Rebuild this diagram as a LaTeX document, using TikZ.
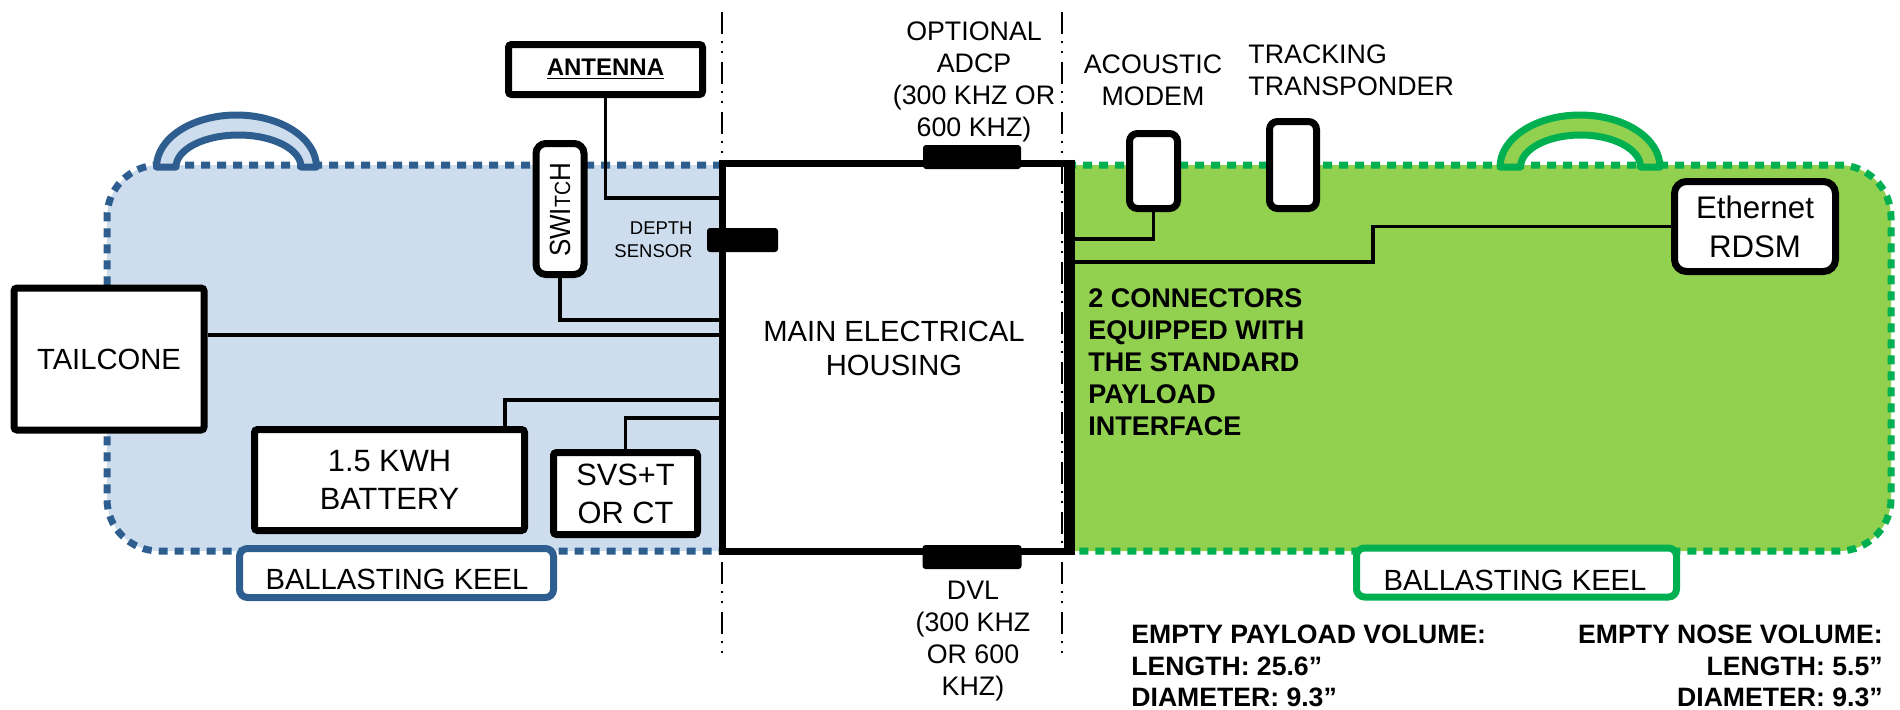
\documentclass[tikz,border=0pt]{standalone}
\usepackage{fontspec}
\setmainfont{Liberation Sans}
\definecolor{bluefill}{HTML}{CEDDEE}
\definecolor{blueline}{HTML}{2E5E8F}
\definecolor{greenfill}{HTML}{92D050}
\definecolor{greenline}{HTML}{00B050}
\tikzset{
  unitbox/.style={draw=black, fill=white, line width=3.5pt, rounded corners=1.5pt, inner sep=0, align=center, font=\fontsize{15.4}{19}\selectfont},
  podbox/.style={unitbox, rounded corners=6pt},
  barnode/.style={fill=black, rounded corners=1.5pt, inner sep=0},
  wire/.style={draw=black, line width=1.7pt, line join=miter},
  hull/.style={line width=3.5pt, dash pattern=on 4.5pt off 3.5pt, rounded corners=26pt},
  handle/.style={line width=3.5pt, line join=round},
  keel/.style={fill=white, line width=3.5pt, rounded corners=4pt, inner sep=0, font=\fontsize{14.6}{18}\selectfont},
  bound/.style={draw=black, line width=1.2pt, dash pattern=on 11pt off 3.5pt on 1pt off 4pt on 1pt off 4.5pt},
  note/.style={inner sep=0, align=center, font=\fontsize{13.4}{16}\selectfont},
  boldnote/.style={inner sep=0, font=\fontsize{13.3}{15.7}\selectfont\bfseries}
}
\begin{document}
\begin{tikzpicture}[x=.5pt, y=-.5pt]
\useasboundingbox (0,0) rectangle (1900,709);

\draw[hull, draw=greenline, fill=greenfill] (1067,165) -- (1891,165) -- (1891,551) -- (1067,551);
\draw[hull, draw=blueline, fill=bluefill] (722,165) -- (107,165) -- (107,551) -- (722,551);

\draw[handle, draw=blueline, fill=bluefill] (156.5,167) arc[start angle=180, end angle=360, x radius=80, y radius=52] -- (301,167) arc[start angle=360, end angle=180, x radius=62.5, y radius=32] -- cycle;
\draw[handle, draw=greenline, fill=greenfill] (1500,167) arc[start angle=180, end angle=360, x radius=80, y radius=52] -- (1640.5,167) arc[start angle=360, end angle=180, x radius=60, y radius=32] -- cycle;

\node[keel, draw=blueline, minimum width=157pt, minimum height=24.5pt] (keelrear) at (396.5,573) {};
\node[inner sep=0, font=\fontsize{14.6}{18}\selectfont] (keelreartext) at (397,579) {BALLASTING KEEL};
\node[keel, draw=greenline, minimum width=160pt, minimum height=24.5pt] (keelfront) at (1516.5,572.5) {};
\node[inner sep=0, font=\fontsize{14.6}{18}\selectfont] (keelfronttext) at (1515,580) {BALLASTING KEEL};

\node[unitbox, rounded corners=0pt, minimum width=172.5pt, minimum height=194pt] (housing) at (894.5,357) {};
\node[inner sep=0, align=center, font=\fontsize{14.6}{17}\selectfont] (housingtext) at (894,348) {MAIN ELECTRICAL\\HOUSING};
\draw[line width=4pt] (housing.north east) -- (housing.south east);

\draw[bound] (722,12) -- (722,662);
\draw[bound] (1062,12) -- (1062,662);

\node[unitbox, minimum width=97pt, minimum height=25pt] (antenna) at (605.5,69.5) {\fontsize{12}{14}\selectfont\bfseries\underline{ANTENNA}};
\node[podbox, rounded corners=5pt, minimum width=24pt, minimum height=65.5pt] (switch) at (560,209) {};
\node[rotate=90, inner sep=0] (switchtext) at (560,210) {\fontsize{14.6}{18}\selectfont\scalebox{.89}[1]{SWI{\fontsize{11}{18}\selectfont TC}H}};
\node[unitbox, minimum width=95pt, minimum height=71pt] (tailcone) at (109,359) {\fontsize{14.6}{18}\selectfont TAILCONE};
\node[unitbox, minimum width=135pt, minimum height=50.5pt] (battery) at (389.5,480) {1.5 KWH\\BATTERY};
\node[unitbox, minimum width=72pt, minimum height=41pt] (svs) at (625.5,493.5) {SVS+T\\OR CT};
\node[podbox, rounded corners=4pt, minimum width=24pt, minimum height=37.5pt] (modem) at (1153.5,171) {};
\node[podbox, rounded corners=4pt, minimum width=23.5pt, minimum height=43.5pt] (tracker) at (1293,165) {};
\node[podbox, minimum width=80.5pt, minimum height=45pt, font=\fontsize{15.6}{19.5}\selectfont] (ethernet) at (1755,226.5) {Ethernet\\RDSM};

\node[barnode, minimum width=49pt, minimum height=12pt] (adcpbar) at (972,157) {};
\node[barnode, minimum width=49.5pt, minimum height=12pt] (dvlbar) at (972,557) {};
\node[barnode, minimum width=35.5pt, minimum height=12pt] (depthbar) at (742.5,240) {};

\coordinate (antennaport) at (722,198);
\coordinate (switchport) at (722,320);
\coordinate (tailport) at (722,335);
\coordinate (batteryport) at (722,400);
\coordinate (svsport) at (722,418);
\coordinate (modemport) at (1067,239);
\coordinate (payloadport) at (1067,262);
\coordinate (ethernetbend) at (1373,226.5);

\draw[wire] (antenna.south) |- (antennaport);
\draw[wire] (switch.south) |- (switchport);
\draw[wire, line width=2.2pt] (tailcone.east |- tailport) -- (tailport);
\draw[wire] (battery.north -| 505,0) |- (batteryport);
\draw[wire] (svs.north) |- (svsport);
\draw[wire] (modem.south) |- (modemport);
\draw[wire] (payloadport) -| (ethernetbend) -- (ethernet.west);

\node[inner sep=0, align=right, anchor=east, font=\fontsize{9.25}{11.5}\selectfont] (depthtext) at (693,240) {DEPTH\\SENSOR};
\node[note] (adcptext) at (974,82) {OPTIONAL\\ADCP\\(300 KHZ OR\\600 KHZ)};
\node[note] (modemtext) at (1153,80) {ACOUSTIC\\MODEM};
\node[note, align=left, anchor=west] (trackertext) at (1248,70) {TRACKING\\TRANSPONDER};
\node[note] (dvltext) at (973,641) {DVL\\(300 KHZ\\OR 600\\KHZ)};
\node[boldnote, align=left, anchor=west, font=\fontsize{13.5}{16}\selectfont\bfseries] (connectortext) at (1088,362) {2 CONNECTORS\\EQUIPPED WITH\\THE STANDARD\\PAYLOAD\\INTERFACE};
\node[boldnote, align=left, anchor=north west] (payloadtext) at (1131,625) {EMPTY PAYLOAD VOLUME:\\LENGTH: 25.6”\\DIAMETER: 9.3”};
\node[boldnote, align=right, anchor=north east] (nosetext) at (1883,625) {EMPTY NOSE VOLUME:\\LENGTH: 5.5”\\DIAMETER: 9.3”};
\end{tikzpicture}
\end{document}
